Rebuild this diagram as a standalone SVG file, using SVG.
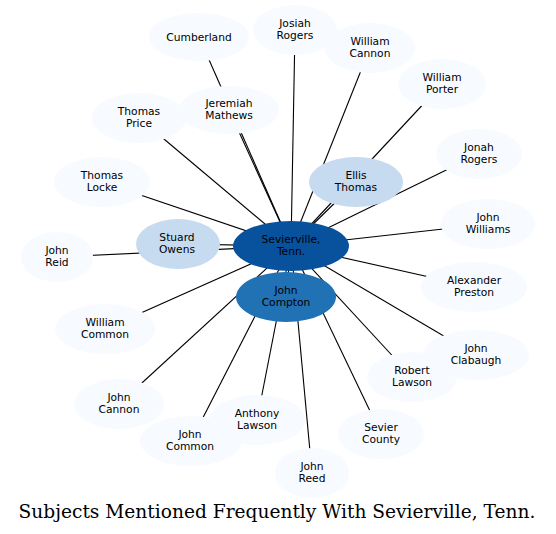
<svg xmlns="http://www.w3.org/2000/svg" width="556" height="534" viewBox="0 0 556 534">
<style>
.e{stroke:#000;stroke-width:1.1;fill:none}
.o{fill:#f7fbff}
.m{fill:#c6dbef}
.t{font-family:"DejaVu Sans",sans-serif;font-size:10.7px;fill:#000;text-anchor:middle}
.title{font-family:"DejaVu Serif",serif;font-size:18.6px;fill:#000;text-anchor:middle}
</style>
<rect width="556" height="534" fill="#fff"/>
<g id="edges">
<line class="e" x1="291" y1="246" x2="199" y2="37"/>
<line class="e" x1="291" y1="246" x2="295" y2="30"/>
<line class="e" x1="291" y1="246" x2="370" y2="48"/>
<line class="e" x1="291" y1="246" x2="442" y2="84"/>
<line class="e" x1="291" y1="246" x2="139" y2="118"/>
<line class="e" x1="291" y1="246" x2="229" y2="110"/>
<line class="e" x1="291" y1="246" x2="479" y2="154"/>
<line class="e" x1="291" y1="246" x2="102" y2="182"/>
<line class="e" x1="291" y1="246" x2="356" y2="182"/>
<line class="e" x1="291" y1="246" x2="488" y2="224"/>
<line class="e" x1="291" y1="246" x2="178" y2="244"/>
<line class="e" x1="291" y1="246" x2="57" y2="257"/>
<line class="e" x1="291" y1="246" x2="474" y2="287"/>
<line class="e" x1="291" y1="246" x2="286" y2="297"/>
<line class="e" x1="291" y1="246" x2="105" y2="329"/>
<line class="e" x1="291" y1="246" x2="476" y2="355"/>
<line class="e" x1="291" y1="246" x2="412" y2="377"/>
<line class="e" x1="291" y1="246" x2="119" y2="404"/>
<line class="e" x1="291" y1="246" x2="257" y2="420"/>
<line class="e" x1="291" y1="246" x2="381" y2="434"/>
<line class="e" x1="291" y1="246" x2="191" y2="441"/>
<line class="e" x1="291" y1="246" x2="312" y2="473"/>
</g>
<g id="n_cumberland"><ellipse class="o" cx="199" cy="37" rx="50" ry="24"/><text class="t" x="199" y="40.5">Cumberland</text></g>
<g id="n_josiah_rogers"><ellipse class="o" cx="295" cy="30" rx="42" ry="25"/><text class="t" x="295" y="26.5">Josiah</text><text class="t" x="295" y="38.5">Rogers</text></g>
<g id="n_william_cannon"><ellipse class="o" cx="370" cy="48" rx="45" ry="25"/><text class="t" x="370" y="44.5">William</text><text class="t" x="370" y="56.5">Cannon</text></g>
<g id="n_william_porter"><ellipse class="o" cx="442" cy="84" rx="44" ry="25"/><text class="t" x="442" y="80.5">William</text><text class="t" x="442" y="92.5">Porter</text></g>
<g id="n_thomas_price"><ellipse class="o" cx="139" cy="118" rx="47" ry="25"/><text class="t" x="139" y="114.5">Thomas</text><text class="t" x="139" y="126.5">Price</text></g>
<g id="n_jeremiah_mathews"><ellipse class="o" cx="229" cy="110" rx="50" ry="24"/><text class="t" x="229" y="106.5">Jeremiah</text><text class="t" x="229" y="118.5">Mathews</text></g>
<g id="n_jonah_rogers"><ellipse class="o" cx="479" cy="154" rx="43" ry="25"/><text class="t" x="479" y="150.5">Jonah</text><text class="t" x="479" y="162.5">Rogers</text></g>
<g id="n_thomas_locke"><ellipse class="o" cx="102" cy="182" rx="48" ry="25"/><text class="t" x="102" y="178.5">Thomas</text><text class="t" x="102" y="190.5">Locke</text></g>
<g id="n_ellis_thomas"><ellipse class="m" cx="356" cy="182" rx="47" ry="25"/><text class="t" x="356" y="178.5">Ellis</text><text class="t" x="356" y="190.5">Thomas</text></g>
<g id="n_john_williams"><ellipse class="o" cx="488" cy="224" rx="47" ry="25"/><text class="t" x="488" y="220.5">John</text><text class="t" x="488" y="232.5">Williams</text></g>
<g id="n_stuard_owens"><ellipse class="m" cx="178" cy="244" rx="42" ry="25"/><text class="t" x="177" y="240.5">Stuard</text><text class="t" x="177" y="252.5">Owens</text></g>
<g id="n_john_reid"><ellipse class="o" cx="57" cy="257" rx="36" ry="25"/><text class="t" x="57" y="253.5">John</text><text class="t" x="57" y="265.5">Reid</text></g>
<g id="n_alexander_preston"><ellipse class="o" cx="474" cy="287" rx="53" ry="25"/><text class="t" x="474" y="283.5">Alexander</text><text class="t" x="474" y="295.5">Preston</text></g>
<g id="n_william_common"><ellipse class="o" cx="105" cy="329" rx="50" ry="25"/><text class="t" x="105" y="325.5">William</text><text class="t" x="105" y="337.5">Common</text></g>
<g id="n_john_clabaugh"><ellipse class="o" cx="476" cy="355" rx="53" ry="25"/><text class="t" x="476" y="351.5">John</text><text class="t" x="476" y="363.5">Clabaugh</text></g>
<g id="n_robert_lawson"><ellipse class="o" cx="412" cy="377" rx="45" ry="25"/><text class="t" x="412" y="373.5">Robert</text><text class="t" x="412" y="385.5">Lawson</text></g>
<g id="n_john_cannon"><ellipse class="o" cx="119" cy="404" rx="45" ry="25"/><text class="t" x="119" y="400.5">John</text><text class="t" x="119" y="412.5">Cannon</text></g>
<g id="n_john_common"><ellipse class="o" cx="191" cy="441" rx="51" ry="25"/><text class="t" x="190" y="437.5">John</text><text class="t" x="190" y="449.5">Common</text></g>
<g id="n_anthony_lawson"><ellipse class="o" cx="257" cy="420" rx="48" ry="25"/><text class="t" x="257" y="416.5">Anthony</text><text class="t" x="257" y="428.5">Lawson</text></g>
<g id="n_sevier_county"><ellipse class="o" cx="381" cy="434" rx="43" ry="25"/><text class="t" x="381" y="430.5">Sevier</text><text class="t" x="381" y="442.5">County</text></g>
<g id="n_john_reed"><ellipse class="o" cx="312" cy="473" rx="37" ry="25"/><text class="t" x="312" y="469.5">John</text><text class="t" x="312" y="481.5">Reed</text></g>
<g id="n_john_compton"><ellipse cx="286" cy="297" rx="50" ry="25" fill="#2171b5"/><text class="t" x="286" y="293.5">John</text><text class="t" x="286" y="305.5">Compton</text></g>
<g id="n_sevierville"><ellipse cx="291" cy="246" rx="58" ry="25" fill="#08519c"/><text class="t" x="291" y="242.5">Sevierville,</text><text class="t" x="291" y="254.5">Tenn.</text></g>
<text class="title" x="277" y="518">Subjects Mentioned Frequently With Sevierville, Tenn.</text>
</svg>
